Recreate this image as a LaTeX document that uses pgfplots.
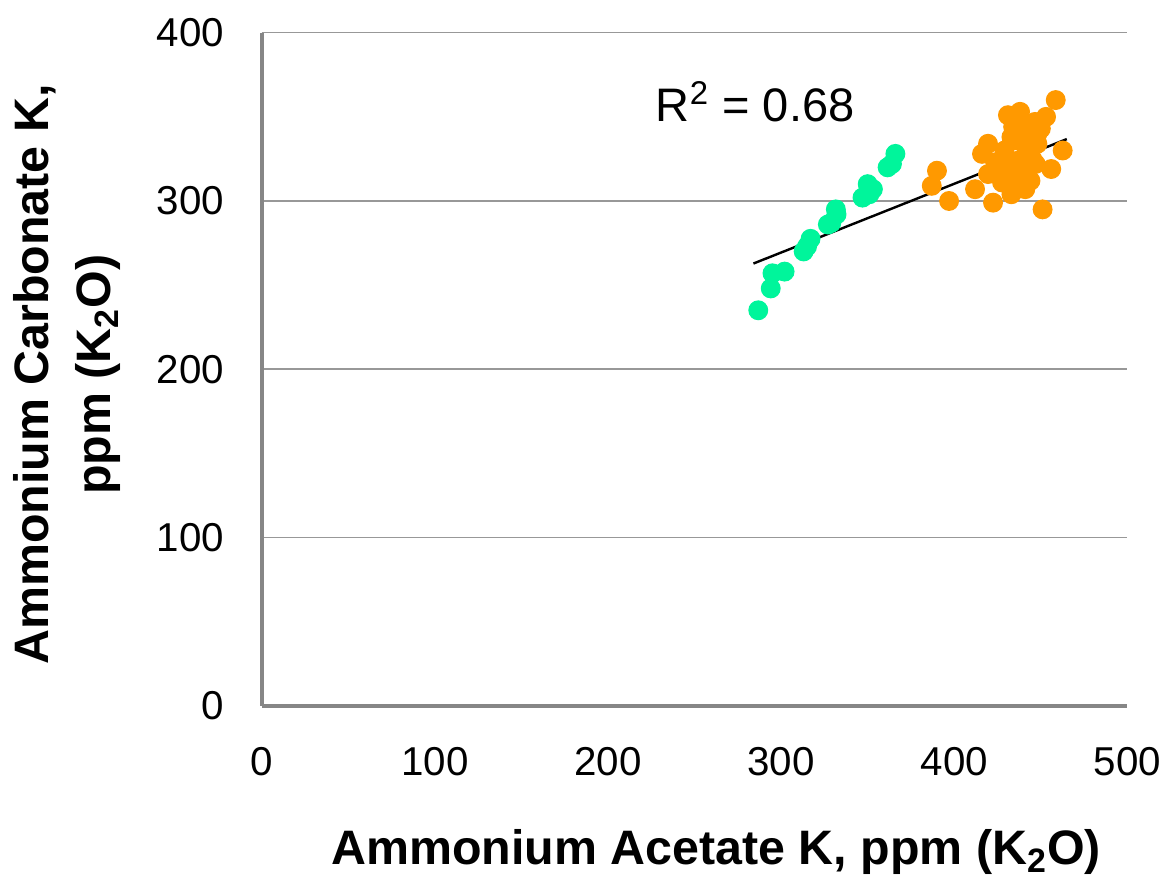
\documentclass[border=0pt]{standalone}
\usepackage{pgfplots}
\pgfplotsset{compat=1.18}
\usepackage{fontspec}
\setmainfont{Liberation Sans}
\definecolor{ptgreen}{RGB}{0,245,155}
\definecolor{ptorange}{RGB}{255,153,0}
\definecolor{axgray}{RGB}{134,134,134}

\begin{document}
\begin{tikzpicture}
\begin{axis}[
    scale only axis,
    width=322.2pt, height=250.4pt,
    xmin=0, xmax=500, ymin=0, ymax=400,
    xtick={0,100,...,500}, ytick={0,100,...,400},
    axis x line*=bottom, axis y line*=left,
    axis line style={axgray, line width=1.5pt, -},
    ymajorgrids,
    grid style={axgray!85, line width=0.5pt},
    tick style={draw=none},
    clip=false,
    /pgf/number format/assume math mode=true,
    ticklabel style={font=\fontsize{15}{17}\selectfont},
    xticklabel style={yshift=-12pt},
    yticklabel style={xshift=-10.5pt},
    xlabel={\textbf{Ammonium Acetate K, ppm (K\textsubscript{2}O)}},
    ylabel={\textbf{Ammonium Carbonate K,}\\\textbf{ppm (K\textsubscript{2}O)}},
    xlabel style={font=\fontsize{18}{22}\selectfont, at={(axis description cs:0.5,0)},
        anchor=center, yshift=-54.5pt, xshift=8pt},
    ylabel style={font=\fontsize{18}{23.3}\selectfont, align=center,
        at={(axis description cs:0,0.5)}, anchor=center, yshift=72.5pt, xshift=-2pt},
]
\coordinate (O) at (rel axis cs:0,0);
% green group
\addplot[only marks, mark=*, mark size=3.5pt, color=ptgreen, mark options={draw=none, fill=ptgreen}]
coordinates {
    (286.8,235) (294,248) (295,257) (302,258) (313,270) (317,277.5)
    (315,273) (327,286) (329,287) (331.6,295) (332,292) (347,302)
    (350,310) (353,307) (351,304) (361.5,320) (364,322) (366,328)
};
% orange group
\addplot[only marks, mark=*, mark size=3.5pt, color=ptorange, mark options={draw=none, fill=ptorange}]
coordinates {
    (458.6,360) (431,351) (438,353) (453,350) (446.6,347) (433,338)
    (439,341) (448,340) (419.5,334) (416,328) (429,330) (448,334)
    (462.6,330) (437,324) (445,325) (456,319) (390,318) (387,309)
    (419.5,316) (427.6,311) (435,309) (441,307) (412,307) (397,300)
    (422.4,299) (433,304) (451,295) (423.6,323) (433,321) (445,333)
    (440,345) (436,336) (442,330) (428,325) (438,317) (447,322)
    (430,316) (425,320) (441,338) (450,343) (434,344) (444,312)
};
% linear trend
\addplot[black, line width=0.9pt] coordinates {(284,262.8) (465,336.8)};
\node[font=\fontsize{17.5}{20}\selectfont] at (axis cs:285,359) {R\textsuperscript{2} = 0.68};
\end{axis}
\path ([shift={(-97.4pt,-62.2pt)}]O) rectangle ([shift={(335.9pt,262.6pt)}]O);
\end{tikzpicture}
\end{document}
